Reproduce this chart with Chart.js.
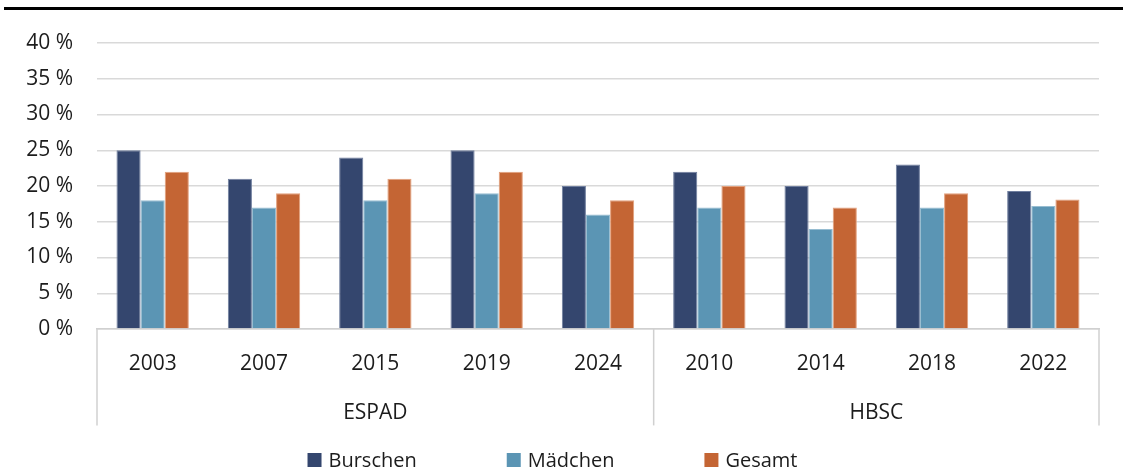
<!DOCTYPE html>
<html lang="de">
<head>
<meta charset="utf-8">
<title>ESPAD / HBSC</title>
<script src="https://cdn.jsdelivr.net/npm/chart.js@4.4.1/dist/chart.umd.min.js"></script>
<style>
    html, body { margin: 0; padding: 0; background: #fff; }
    #wrap { position: relative; width: 1123px; height: 473px; }
    #myChart { position: absolute; left: 0; top: 0; }
    #rule { position: absolute; left: 4px; right: 0; top: 7px; height: 3px; background: #000; }
</style>
</head>
<body>
<div id="wrap">
    <canvas id="myChart" width="1123" height="473"></canvas>
    <div id="rule"></div>
</div>
<script>
const years = ["2003", "2007", "2015", "2019", "2024", "2010", "2014", "2018", "2022"];
const groups = ["ESPAD", "HBSC"];
const groupSizes = [5, 4];
const burschen = [25, 21, 24, 25, 20, 22, 20, 23, 19.3];
const maedchen = [18, 17, 18, 19, 16, 17, 14, 17, 17.2];
const gesamt = [22, 19, 21, 22, 18, 20, 17, 19, 18.1];
const yMax = 40;
const yStep = 5;

// Grenzen und Mitten der Gruppen (in Kategorie-Einheiten)
const groupBounds = [0];
groupSizes.forEach((n) => groupBounds.push(groupBounds[groupBounds.length - 1] + n));
const groupCenters = groups.map((g, i) => (groupBounds[i] + groupBounds[i + 1]) / 2);

const textColor = "#1c1c1c";
const lineColor = "#d0d0d0";

// Senkrechte Trennlinien der zweistufigen Achse
const groupLines = {
    id: "groupLines",
    afterDraw(chart) {
        const g = chart.scales.group;
        const x = chart.scales.x;
        const ctx = chart.ctx;
        ctx.save();
        ctx.strokeStyle = lineColor;
        ctx.lineWidth = 1.5;
        groupBounds.forEach((b) => {
            const px = g.getPixelForValue(b);
            ctx.beginPath();
            ctx.moveTo(px, x.top);
            ctx.lineTo(px, g.bottom - 2);
            ctx.stroke();
        });
        ctx.restore();
    },
};

// Legende mit festem Abstand zwischen den Einträgen
const bottomLegend = {
    id: "bottomLegend",
    afterDraw(chart, args, opts) {
        const ctx = chart.ctx;
        ctx.save();
        ctx.font = opts.font;
        const items = chart.data.datasets.map((ds) => ({
            text: ds.label,
            color: ds.backgroundColor,
            w: opts.box + opts.gap + ctx.measureText(ds.label).width,
        }));
        const total = items.reduce((s, it) => s + it.w, 0) + opts.spacing * (items.length - 1);
        let x = (chart.width - total) / 2 + opts.shift;
        const y = chart.height - opts.bottom;
        ctx.textBaseline = "middle";
        items.forEach((it) => {
            ctx.fillStyle = it.color;
            ctx.fillRect(x, y - opts.box / 2, opts.box, opts.box);
            ctx.fillStyle = textColor;
            ctx.fillText(it.text, x + opts.box + opts.gap, y + 1);
            x += it.w + opts.spacing;
        });
        ctx.restore();
    },
};

const ctx = document.getElementById("myChart").getContext("2d");
const myChart = new Chart(ctx, {
    type: "bar",
    data: {
        labels: years,
        datasets: [{
            label: "Burschen",
            data: burschen,
            backgroundColor: "#34466e",
            borderColor: "#6f7e9e",
            borderWidth: 1,
        }, {
            label: "Mädchen",
            data: maedchen,
            backgroundColor: "#5b95b4",
            borderColor: "#97bdd1",
            borderWidth: 1,
        }, {
            label: "Gesamt",
            data: gesamt,
            backgroundColor: "#c46534",
            borderColor: "#e3a07c",
            borderWidth: 1,
        }, ],
    },
    options: {
        responsive: false,
        animation: false,
        categoryPercentage: 0.65,
        barPercentage: 1.0,
        layout: {
            padding: { top: 43, right: 24, bottom: 45.6, left: 0 },
        },
        scales: {
            y: {
                min: 0,
                max: yMax,
                ticks: {
                    stepSize: yStep,
                    padding: 24,
                    color: textColor,
                    font: { family: "'Open Sans'", size: 21 },
                    callback: (v) => v + " %",
                },
                grid: { color: "#d9d9d9", lineWidth: 1.5, drawTicks: false },
                border: { display: false },
                afterFit: (scale) => { scale.width = 97; },
            },
            x: {
                ticks: {
                    padding: 22,
                    color: textColor,
                    font: { family: "'Open Sans'", size: 21 },
                },
                grid: { display: false, drawTicks: false },
                border: { display: true, color: lineColor, width: 1.5 },
            },
            group: {
                type: "linear",
                position: "bottom",
                offset: false,
                min: 0,
                max: groupBounds[groupBounds.length - 1],
                afterBuildTicks: (axis) => {
                    axis.ticks = groupCenters.map((c) => ({ value: c }));
                },
                ticks: {
                    padding: 2,
                    color: textColor,
                    font: { family: "'Open Sans'", size: 21 },
                    autoSkip: false,
                    maxRotation: 0,
                    callback: (v) => groups[groupCenters.indexOf(v)],
                },
                grid: { display: false, drawTicks: false },
                border: { display: false },
            },
        },
        plugins: {
            legend: { display: false },
            tooltip: { enabled: false },
            bottomLegend: {
                font: "20px 'Open Sans'",
                box: 14,
                gap: 7,
                spacing: 90,
                shift: -9,
                bottom: 13,
            },
        },
    },
    plugins: [groupLines, bottomLegend],
});
</script>
</body>
</html>
